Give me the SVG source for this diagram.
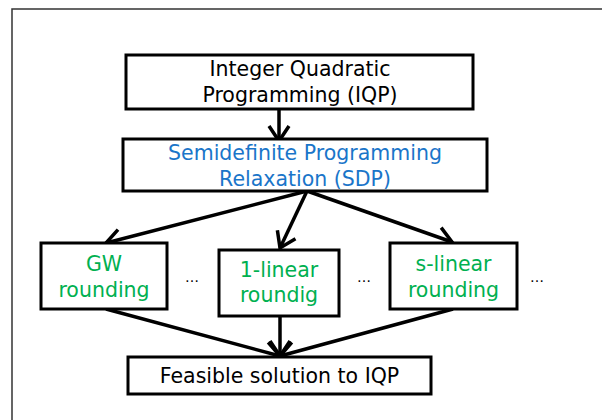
<svg xmlns="http://www.w3.org/2000/svg" width="602" height="420" viewBox="0 0 602 420">
<style>
.box{fill:#fff;stroke:#000;stroke-width:3}
.t{font-family:"DejaVu Sans","Liberation Sans",sans-serif;font-size:20.5px;text-anchor:middle}
.k{fill:#000}
.b{fill:#1a75c9}
.g{fill:#00b050}
.c{stroke:#000;stroke-width:3.5;fill:none;marker-end:url(#ah)}
.dots{font-family:"DejaVu Sans",sans-serif;font-size:14px;text-anchor:middle;fill:#000}
</style>
<defs>
<marker id="ah" viewBox="-18 -12 22 24" refX="0" refY="0" markerWidth="22" markerHeight="24" markerUnits="userSpaceOnUse" orient="auto" overflow="visible">
<path d="M-15,-10 L0,0 L-15,10" fill="none" stroke="#000" stroke-width="3.5" stroke-linejoin="miter"/>
</marker>
</defs>
<rect x="12" y="9" width="700" height="500" fill="#fff" stroke="#333" stroke-width="1.5"/>
<g id="connectors">
<line class="c" x1="279" y1="110" x2="279" y2="141"/>
<line class="c" x1="307" y1="191" x2="106" y2="243"/>
<line class="c" x1="307" y1="191" x2="280" y2="248"/>
<line class="c" x1="307" y1="191" x2="452" y2="242"/>
<line class="c" x1="106" y1="309" x2="280" y2="356"/>
<line class="c" x1="280" y1="316" x2="280" y2="356"/>
<line class="c" x1="453" y1="309" x2="280" y2="356"/>
</g>
<g id="iqp">
<rect class="box" x="126" y="55" width="347" height="54"/>
<text class="t k" x="300" y="76">Integer Quadratic</text>
<text class="t k" x="300" y="102">Programming (IQP)</text>
</g>
<g id="sdp">
<rect class="box" x="123" y="139" width="364" height="52"/>
<text class="t b" x="305" y="160">Semidefinite Programming</text>
<text class="t b" x="305" y="186">Relaxation (SDP)</text>
</g>
<g id="gw">
<rect class="box" x="41" y="243" width="126" height="66"/>
<text class="t g" x="104" y="271">GW</text>
<text class="t g" x="104" y="297">rounding</text>
</g>
<g id="linear1">
<rect class="box" x="219" y="250" width="120" height="66"/>
<text class="t g" x="279" y="277">1-linear</text>
<text class="t g" x="279" y="302">roundig</text>
</g>
<g id="slinear">
<rect class="box" x="390" y="243" width="127" height="66"/>
<text class="t g" x="453.5" y="271">s-linear</text>
<text class="t g" x="453.5" y="297">rounding</text>
</g>
<g id="feasible">
<rect class="box" x="128" y="357" width="303" height="37"/>
<text class="t k" x="279.5" y="383">Feasible solution to IQP</text>
</g>
<g id="dots">
<text class="dots" x="192" y="282">…</text>
<text class="dots" x="364" y="282">…</text>
<text class="dots" x="537" y="282">…</text>
</g>
</svg>
